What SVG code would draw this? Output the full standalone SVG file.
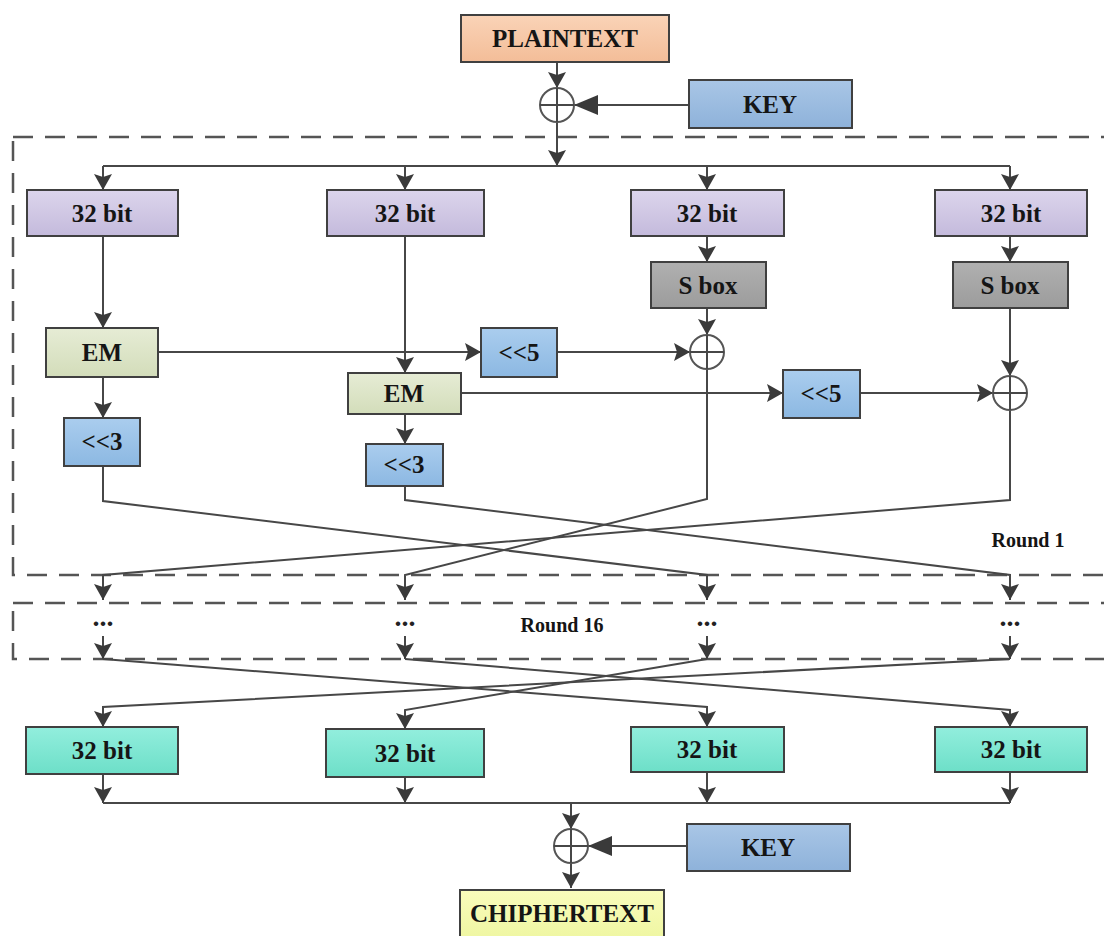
<svg xmlns="http://www.w3.org/2000/svg" width="1104" height="936" viewBox="0 0 1104 936">
<style>
.box{stroke:#404040;stroke-width:2}
.lbl{font-family:"Liberation Serif",serif;font-weight:bold;font-size:25px;text-anchor:middle;fill:#151515}
.rl{font-family:"Liberation Serif",serif;font-weight:bold;font-size:20px;text-anchor:middle;fill:#151515}
.dots{font-family:"Liberation Serif",serif;font-weight:bold;font-size:28px;text-anchor:middle;fill:#222}
.ln{stroke:#474747;stroke-width:2;fill:none}
.ar{marker-end:url(#ah)}
.arb{marker-end:url(#ahb)}
.dash{stroke:#555;stroke-width:2.5;stroke-dasharray:20 12;fill:none}
.xor{fill:#fff;stroke:#555;stroke-width:2}
</style>
<defs>
<marker id="ah" markerUnits="userSpaceOnUse" markerWidth="16" markerHeight="18" refX="16" refY="9" orient="auto"><path d="M0,0 L16,9 L0,18 L3,9 z" fill="#3a3a3a"/></marker>
<marker id="ahb" markerUnits="userSpaceOnUse" markerWidth="24" markerHeight="20" refX="24" refY="10" orient="auto"><path d="M0,0 L24,10 L0,20 z" fill="#3a3a3a"/></marker>
<linearGradient id="gPeach" x1="0" y1="0" x2="0" y2="1"><stop offset="0" stop-color="#FAD3B7"/><stop offset="1" stop-color="#F3BD98"/></linearGradient>
<linearGradient id="gKey" x1="0" y1="0" x2="0" y2="1"><stop offset="0" stop-color="#A9C6E6"/><stop offset="1" stop-color="#8EB2DA"/></linearGradient>
<linearGradient id="gPur" x1="0" y1="0" x2="0" y2="1"><stop offset="0" stop-color="#DCD5EC"/><stop offset="1" stop-color="#C4BADC"/></linearGradient>
<linearGradient id="gGray" x1="0" y1="0" x2="0" y2="1"><stop offset="0" stop-color="#B0B0B0"/><stop offset="1" stop-color="#9C9C9C"/></linearGradient>
<linearGradient id="gEm" x1="0" y1="0" x2="0" y2="1"><stop offset="0" stop-color="#E6ECD5"/><stop offset="1" stop-color="#D3DDBA"/></linearGradient>
<linearGradient id="gSh" x1="0" y1="0" x2="0" y2="1"><stop offset="0" stop-color="#AACDEE"/><stop offset="1" stop-color="#8CB8E2"/></linearGradient>
<linearGradient id="gTeal" x1="0" y1="0" x2="0" y2="1"><stop offset="0" stop-color="#92EEDD"/><stop offset="1" stop-color="#6DDFC8"/></linearGradient>
<linearGradient id="gYel" x1="0" y1="0" x2="0" y2="1"><stop offset="0" stop-color="#FAFCBC"/><stop offset="1" stop-color="#EEF6A0"/></linearGradient>
</defs>
<rect width="1104" height="936" fill="#fff"/>

<g id="round1-frame"><rect class="dash" x="13" y="137" width="1110" height="438"/><text class="rl" x="1028" y="547">Round 1</text></g>
<g id="round16-frame"><rect class="dash" x="13" y="603" width="1110" height="56"/><text class="rl" x="562" y="632">Round 16</text>
<text class="dots" x="103" y="626">...</text><text class="dots" x="405" y="626">...</text><text class="dots" x="707" y="626">...</text><text class="dots" x="1010" y="626">...</text></g>

<g id="connectors">
<path class="ln ar" d="M557,62 V88"/>
<path class="ln arb" d="M689,105 H574"/>
<path class="ln ar" d="M557,122 V166"/>
<path class="ln" d="M103,166 H1010"/>
<path class="ln ar" d="M103,166 V190"/>
<path class="ln ar" d="M405,166 V190"/>
<path class="ln ar" d="M707,166 V190"/>
<path class="ln ar" d="M1010,166 V190"/>
<path class="ln ar" d="M103,236 V328"/>
<path class="ln ar" d="M405,236 V373"/>
<path class="ln ar" d="M707,236 V262"/>
<path class="ln ar" d="M707,308 V335"/>
<path class="ln ar" d="M1010,236 V262"/>
<path class="ln ar" d="M1010,308 V376"/>
<path class="ln ar" d="M158,352 H481"/>
<path class="ln ar" d="M557,352 H690"/>
<path class="ln ar" d="M461,393 H783"/>
<path class="ln ar" d="M860,393 H993"/>
<path class="ln ar" d="M103,377 V418"/>
<path class="ln ar" d="M405,414 V444"/>
<path class="ln ar" d="M103,466 V501 L707,575 V600"/>
<path class="ln ar" d="M405,486 V500 L1010,575 V600"/>
<path class="ln ar" d="M707,369 V499 L405,575 V600"/>
<path class="ln ar" d="M1010,410 V500 L103,575 V600"/>
<path class="ln ar" d="M103,636 V659"/>
<path class="ln ar" d="M405,636 V659"/>
<path class="ln ar" d="M707,636 V659"/>
<path class="ln ar" d="M1010,636 V659"/>
<path class="ln ar" d="M103,659 L707,707 V727"/>
<path class="ln ar" d="M405,659 L1010,710 V727"/>
<path class="ln ar" d="M707,659 L405,710 V729"/>
<path class="ln ar" d="M1010,659 L103,707 V727"/>
<path class="ln ar" d="M103,774 V803"/>
<path class="ln ar" d="M405,777 V803"/>
<path class="ln ar" d="M707,772 V803"/>
<path class="ln ar" d="M1010,772 V803"/>
<path class="ln" d="M103,803 H1010"/>
<path class="ln ar" d="M571,803 V829"/>
<path class="ln arb" d="M687,846 H588"/>
<path class="ln ar" d="M571,863 V888"/>
</g>

<g id="xor-top"><circle class="xor" cx="557" cy="105" r="17"/><path class="ln" d="M540,105 H574 M557,88 V122"/></g>
<g id="xor-col3"><circle class="xor" cx="707" cy="352" r="17"/><path class="ln" d="M690,352 H724 M707,335 V369"/></g>
<g id="xor-col4"><circle class="xor" cx="1010" cy="393" r="17"/><path class="ln" d="M993,393 H1027 M1010,376 V410"/></g>
<g id="xor-bottom"><circle class="xor" cx="571" cy="846" r="17"/><path class="ln" d="M554,846 H588 M571,829 V863"/></g>

<g id="plaintext"><rect class="box" x="461" y="15" width="208" height="47" fill="url(#gPeach)"/><text class="lbl" x="565" y="47" font-size="26">PLAINTEXT</text></g>
<g id="key-top"><rect class="box" x="689" y="80" width="163" height="48" fill="url(#gKey)"/><text class="lbl" x="770" y="113">KEY</text></g>
<g id="in1"><rect class="box" x="27" y="190" width="151" height="46" fill="url(#gPur)"/><text class="lbl" x="102" y="222">32 bit</text></g>
<g id="in2"><rect class="box" x="327" y="190" width="157" height="46" fill="url(#gPur)"/><text class="lbl" x="405" y="222">32 bit</text></g>
<g id="in3"><rect class="box" x="631" y="190" width="153" height="46" fill="url(#gPur)"/><text class="lbl" x="707" y="222">32 bit</text></g>
<g id="in4"><rect class="box" x="935" y="190" width="152" height="46" fill="url(#gPur)"/><text class="lbl" x="1011" y="222">32 bit</text></g>
<g id="sbox3"><rect class="box" x="651" y="262" width="115" height="46" fill="url(#gGray)"/><text class="lbl" x="708" y="294">S box</text></g>
<g id="sbox4"><rect class="box" x="953" y="262" width="115" height="46" fill="url(#gGray)"/><text class="lbl" x="1010" y="294">S box</text></g>
<g id="em1"><rect class="box" x="46" y="328" width="112" height="49" fill="url(#gEm)"/><text class="lbl" x="102" y="361">EM</text></g>
<g id="em2"><rect class="box" x="348" y="373" width="113" height="41" fill="url(#gEm)"/><text class="lbl" x="404" y="402">EM</text></g>
<g id="shl5a"><rect class="box" x="481" y="328" width="76" height="49" fill="url(#gSh)"/><text class="lbl" x="519" y="361">&lt;&lt;5</text></g>
<g id="shl5b"><rect class="box" x="783" y="370" width="77" height="48" fill="url(#gSh)"/><text class="lbl" x="821" y="402">&lt;&lt;5</text></g>
<g id="shl3a"><rect class="box" x="64" y="418" width="76" height="48" fill="url(#gSh)"/><text class="lbl" x="102" y="450">&lt;&lt;3</text></g>
<g id="shl3b"><rect class="box" x="366" y="444" width="77" height="42" fill="url(#gSh)"/><text class="lbl" x="404" y="473">&lt;&lt;3</text></g>
<g id="out1"><rect class="box" x="26" y="727" width="152" height="47" fill="url(#gTeal)"/><text class="lbl" x="102" y="759">32 bit</text></g>
<g id="out2"><rect class="box" x="326" y="729" width="158" height="48" fill="url(#gTeal)"/><text class="lbl" x="405" y="762">32 bit</text></g>
<g id="out3"><rect class="box" x="631" y="727" width="153" height="45" fill="url(#gTeal)"/><text class="lbl" x="707" y="758">32 bit</text></g>
<g id="out4"><rect class="box" x="935" y="727" width="152" height="45" fill="url(#gTeal)"/><text class="lbl" x="1011" y="758">32 bit</text></g>
<g id="key-bottom"><rect class="box" x="687" y="824" width="163" height="47" fill="url(#gKey)"/><text class="lbl" x="768" y="856">KEY</text></g>
<g id="ciphertext"><rect class="box" x="460" y="890" width="204" height="52" fill="url(#gYel)"/><text class="lbl" x="562" y="922" font-size="26">CHIPHERTEXT</text></g>
</svg>
